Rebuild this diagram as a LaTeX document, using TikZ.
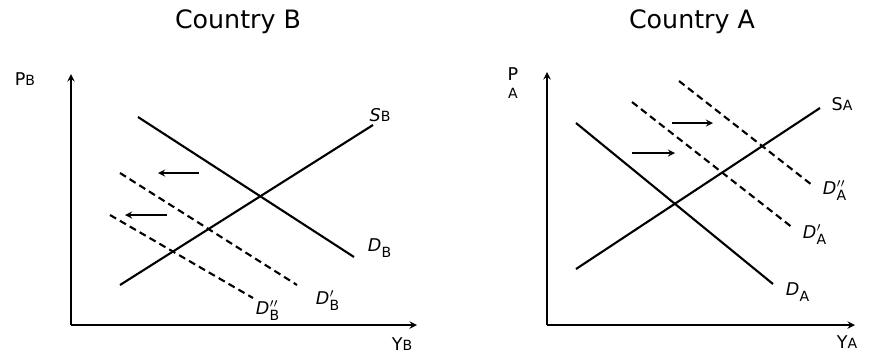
\documentclass[tikz,border=0pt]{standalone}
\usepackage{fontspec}
\setmainfont{DejaVu Sans}
\newcommand{\dname}[2]{{\itshape D}$^{#1}_{\mbox{\footnotesize #2}}$}
\begin{document}
\begin{tikzpicture}[
    x=0.02cm, y=-0.02cm,
    >=stealth,
    axis/.style={->, line width=0.9pt},
    curve/.style={line width=1.2pt},
    shifted/.style={line width=1.2pt, dash pattern=on 4pt off 2.5pt},
    move/.style={->, line width=0.8pt},
    lab/.style={inner sep=1pt, font=\normalsize},
    title/.style={font=\Large}
]
\useasboundingbox (0,0) rectangle (873,356);

% Country B
\node[title] (tB) at (238,22) {Country B};

\coordinate (oB) at (71,325);
\coordinate (yB) at (71,74);
\coordinate (xB) at (417,325);
\draw[axis] (oB) -- (yB);
\draw[axis] (oB) -- (xB);
\node[lab] (pB) at (25,79) {P{\footnotesize B}};
\node[lab] (qB) at (402,344) {Y{\footnotesize B}};

\coordinate (dB1) at (138,117);
\coordinate (dB2) at (354,257);
\coordinate (sB1) at (120,285);
\coordinate (sB2) at (373,125);
\coordinate (dpB1) at (120,173);
\coordinate (dpB2) at (297,285);
\coordinate (dppB1) at (110,215);
\coordinate (dppB2) at (253,298);

\draw[curve] (dB1) -- (dB2);
\draw[curve] (sB1) -- (sB2);
\draw[shifted] (dpB1) -- (dpB2);
\draw[shifted] (dppB1) -- (dppB2);

\node[lab] (lsB) at (380,115) {{\itshape S}{\footnotesize B}};
\node[lab] (ldB) at (380,248) {\dname{}{B}};
\node[lab] (ldpB) at (328,301) {\dname{\prime}{B}};
\node[lab] (ldppB) at (268,311) {\dname{\prime\prime}{B}};

\coordinate (mB1) at (199,173);
\coordinate (mB2) at (158,173);
\coordinate (mB3) at (167,215);
\coordinate (mB4) at (125,215);
\draw[move] (mB1) -- (mB2);
\draw[move] (mB3) -- (mB4);

% Country A
\node[title] (tA) at (692,22) {Country A};

\coordinate (oA) at (547,325);
\coordinate (yA) at (547,72);
\coordinate (xA) at (855,325);
\draw[axis] (oA) -- (yA);
\draw[axis] (oA) -- (xA);
\node[lab, align=center] (pA) at (513,83) {P\\[-2pt]{\footnotesize A}};
\node[lab] (qA) at (847,342) {Y{\footnotesize A}};

\coordinate (dA1) at (576,123);
\coordinate (dA2) at (773,284);
\coordinate (sA1) at (576,269);
\coordinate (sA2) at (820,108);
\coordinate (dpA1) at (632,102);
\coordinate (dpA2) at (793,228);
\coordinate (dppA1) at (679,81);
\coordinate (dppA2) at (812,185);

\draw[curve] (dA1) -- (dA2);
\draw[curve] (sA1) -- (sA2);
\draw[shifted] (dpA1) -- (dpA2);
\draw[shifted] (dppA1) -- (dppA2);

\node[lab] (lsA) at (842,104) {S{\footnotesize A}};
\node[lab] (ldA) at (798,292) {\dname{}{A}};
\node[lab] (ldpA) at (815,235) {\dname{\prime}{A}};
\node[lab] (ldppA) at (835,191) {\dname{\prime\prime}{A}};

\coordinate (mA1) at (672,123);
\coordinate (mA2) at (713,123);
\coordinate (mA3) at (632,153);
\coordinate (mA4) at (675,153);
\draw[move] (mA1) -- (mA2);
\draw[move] (mA3) -- (mA4);

\end{tikzpicture}
\end{document}
